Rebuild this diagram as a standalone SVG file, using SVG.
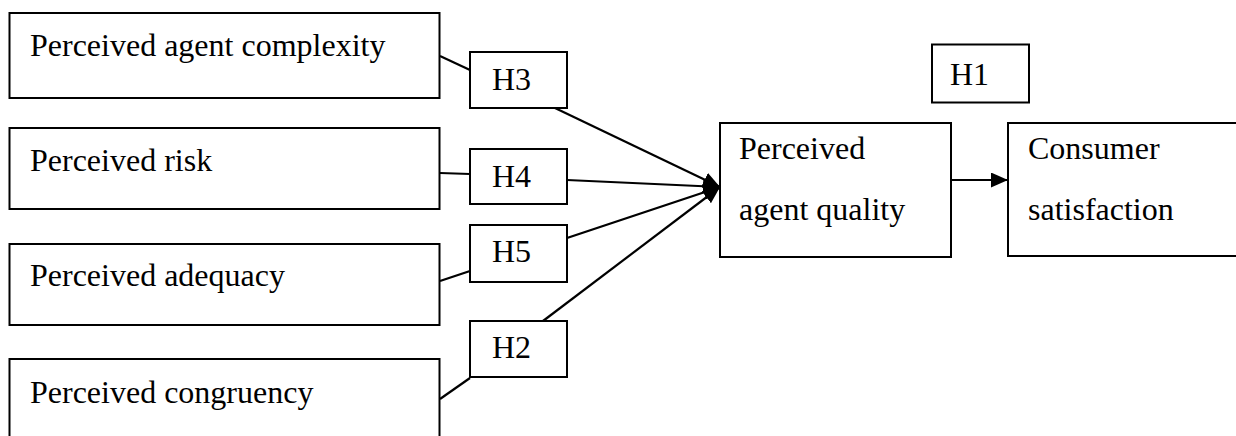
<svg xmlns="http://www.w3.org/2000/svg" width="1236" height="436" viewBox="0 0 1236 436">
<defs>
<style>
.box{fill:#fff;stroke:#000;stroke-width:2}
.t{font-family:"Liberation Serif","Times New Roman",serif;font-size:32px;fill:#000}
.c{fill:none;stroke:#000;stroke-width:2.2}
</style>
<marker id="ah" viewBox="0 0 17 15" refX="17" refY="7.5" markerWidth="17" markerHeight="15" markerUnits="userSpaceOnUse" orient="auto">
<path d="M0,0 L17,7.5 L0,15 Z" fill="#000"/>
</marker>
</defs>
<rect width="1236" height="436" fill="#fff"/>
<g id="connectors">
<line class="c" x1="440" y1="56" x2="470" y2="70"/>
<line class="c" x1="440" y1="173" x2="470" y2="174"/>
<line class="c" x1="440" y1="281" x2="470" y2="271"/>
<line class="c" x1="440" y1="399" x2="470" y2="378"/>
<line class="c" x1="555" y1="108" x2="720" y2="187" marker-end="url(#ah)"/>
<line class="c" x1="567" y1="180" x2="720" y2="187" marker-end="url(#ah)"/>
<line class="c" x1="567" y1="238" x2="720" y2="187" marker-end="url(#ah)"/>
<line class="c" x1="543" y1="321" x2="720" y2="187" marker-end="url(#ah)"/>
<line class="c" x1="951" y1="180" x2="1008" y2="180" marker-end="url(#ah)"/>
</g>
<g id="n-complexity">
<rect class="box" x="9.5" y="13" width="430" height="85"/>
<text class="t" x="30" y="56">Perceived agent complexity</text>
</g>
<g id="n-risk">
<rect class="box" x="9.5" y="128" width="430" height="81"/>
<text class="t" x="30" y="171">Perceived risk</text>
</g>
<g id="n-adequacy">
<rect class="box" x="9.5" y="244" width="430" height="81"/>
<text class="t" x="30" y="286">Perceived adequacy</text>
</g>
<g id="n-congruency">
<rect class="box" x="9.5" y="359" width="430" height="90"/>
<text class="t" x="30" y="403">Perceived congruency</text>
</g>
<g id="n-h3">
<rect class="box" x="470" y="52" width="97" height="56"/>
<text class="t" x="492" y="90">H3</text>
</g>
<g id="n-h4">
<rect class="box" x="470" y="149" width="97" height="55"/>
<text class="t" x="492" y="187">H4</text>
</g>
<g id="n-h5">
<rect class="box" x="470" y="225" width="97" height="57"/>
<text class="t" x="492" y="262">H5</text>
</g>
<g id="n-h2">
<rect class="box" x="470" y="321" width="97" height="56"/>
<text class="t" x="492" y="358">H2</text>
</g>
<g id="n-h1">
<rect class="box" x="932" y="44.5" width="97" height="58"/>
<text class="t" x="950" y="85">H1</text>
</g>
<g id="n-quality">
<rect class="box" x="720" y="123" width="231" height="134"/>
<text class="t" x="739" y="159">Perceived</text>
<text class="t" x="739" y="220">agent quality</text>
</g>
<g id="n-satisfaction">
<rect class="box" x="1008" y="123" width="240" height="133"/>
<text class="t" x="1028" y="159">Consumer</text>
<text class="t" x="1028" y="220">satisfaction</text>
</g>
</svg>
